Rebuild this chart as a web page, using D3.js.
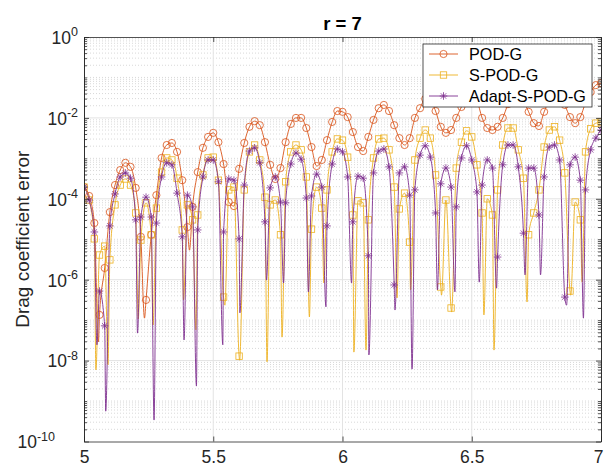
<!DOCTYPE html>
<html>
<head>
<meta charset="utf-8">
<script src="https://cdnjs.cloudflare.com/ajax/libs/d3/7.8.5/d3.min.js"></script>
<style>
  body { margin: 0; background: #fff; }
  text { font-family: "Liberation Sans", Arial, sans-serif; fill: #262626; }
</style>
</head>
<body>
<div id="chart"></div>
<script>
// sample times: one marker every 0.02 from 5 to 7
const tStart = 5;
const tStep = 0.02;

// log10 of drag coefficient error at each marker
const podg = [-3.71,-3.93,-4.60,-6.87,-5.71,-4.33,-3.66,-3.29,-3.11,-3.21,
  -3.73,-4.94,-6.50,-4.89,-3.91,-2.99,-2.67,-2.62,-2.84,-3.54,
  -4.70,-4.20,-3.34,-2.74,-2.47,-2.37,-2.60,-3.14,-4.08,-4.18,
  -3.26,-2.62,-2.22,-2.08,-2.18,-2.60,-3.16,-3.51,-3.24,-2.60,
  -2.15,-2.00,-2.00,-2.25,-2.72,-3.19,-3.04,-2.55,-2.10,-1.83,
  -1.85,-1.98,-2.35,-2.72,-2.82,-2.47,-2.05,-1.76,-1.68,-1.83,
  -2.18,-2.50,-2.67,-2.50,-2.00,-1.76,-1.53,-1.56,-1.83,-2.22,
  -2.37,-2.30,-2.00,-1.73,-1.48,-1.38,-1.56,-2.00,-2.25,-2.30,
  -2.22,-2.00,-1.66,-1.36,-1.31,-1.56,-1.85,-2.13,-2.20,-1.85,
  -1.56,-1.36,-1.43,-1.68,-1.98,-2.13,-1.98,-1.63,-1.36,-1.19,
  -1.14];

const spodg = [-3.71,-4.03,-4.99,-5.39,-5.17,-5.51,-4.15,-3.66,-3.51,-3.66,
  -4.35,-5.02,-4.10,-4.89,-4.23,-3.34,-2.99,-3.04,-3.49,-4.77,
  -4.15,-4.52,-4.40,-3.41,-2.99,-2.97,-3.54,-6.43,-3.78,-3.71,
  -7.89,-3.78,-2.84,-2.67,-3.04,-3.96,-4.15,-4.03,-4.89,-3.58,
  -2.84,-2.67,-2.79,-3.46,-4.75,-3.71,-4.23,-3.78,-2.84,-2.52,
  -2.55,-2.97,-4.40,-4.05,-4.10,-4.52,-2.99,-2.52,-2.50,-2.79,
  -3.71,-4.25,-3.86,-5.07,-3.04,-2.50,-2.30,-2.50,-3.41,-6.18,
  -4.03,-6.70,-3.24,-2.60,-2.32,-2.47,-3.16,-4.35,-4.00,-4.40,
  -3.78,-2.67,-2.25,-2.25,-2.79,-3.49,-4.89,-4.35,-3.78,-2.72,
  -2.30,-2.22,-2.55,-3.36,-6.28,-4.08,-4.52,-2.84,-2.27,-2.13,
  -2.10];

const adapt = [-3.71,-4.03,-4.82,-6.28,-7.14,-4.67,-3.88,-3.46,-3.36,-3.49,
  -4.52,-4.45,-3.96,-4.45,-4.60,-3.46,-3.11,-3.16,-3.86,-4.94,
  -3.91,-4.20,-4.77,-3.46,-3.04,-3.04,-3.58,-4.82,-3.51,-3.54,
  -4.99,-3.66,-2.82,-2.74,-3.11,-4.57,-3.73,-3.46,-4.08,-4.10,
  -3.14,-2.87,-3.02,-3.98,-3.93,-3.39,-3.71,-4.67,-3.14,-2.77,
  -2.84,-3.46,-4.57,-3.44,-3.49,-5.41,-3.36,-2.82,-2.77,-3.21,
  -6.13,-3.36,-3.21,-3.91,-3.78,-2.92,-2.69,-2.97,-4.35,-3.63,
  -3.24,-3.71,-4.20,-2.99,-2.69,-3.04,-3.83,-3.66,-3.04,-3.24,
  -5.44,-3.16,-2.67,-2.67,-3.21,-4.85,-3.24,-3.24,-4.40,-3.46,
  -2.72,-2.67,-3.04,-6.43,-3.16,-2.97,-3.54,-3.78,-2.79,-2.50,
  -2.30];

// minima of the curves between markers: [time, log10 error]
const podgDips = [[5.056,-7.54],[5.234,-6.95],[5.408,-5.27]];
const spodgDips = [[5.046,-8.23],[5.093,-8.10],[5.210,-6.97],[5.267,-7.12],[5.385,-6.50],
  [5.433,-7.24],[5.545,-6.63],[5.602,-7.99],[5.708,-8.03],[5.766,-7.42],[5.872,-6.92],
  [5.928,-6.08],[6.044,-7.79],[6.091,-7.74],[6.211,-6.45],[6.263,-6.25],[6.383,-6.38],
  [6.422,-6.80],[6.547,-6.87],[6.586,-7.74],[6.714,-6.55],[6.883,-6.38],[6.927,-6.06]];
const adaptDips = [[5.050,-7.61],[5.084,-9.25],[5.207,-7.32],[5.271,-9.47],[5.387,-7.49],
  [5.435,-8.63],[5.537,-7.61],[5.603,-6.82],[5.706,-6.01],[5.772,-6.08],[5.868,-6.30],
  [5.936,-6.67],[6.035,-6.08],[6.102,-7.86],[6.203,-6.75],[6.269,-8.21],[6.367,-6.25],
  [6.435,-6.30],[6.529,-6.06],[6.596,-6.21],[6.706,-5.88],[6.766,-5.88],[6.867,-6.63],
  [6.932,-6.95]];

const seriesNames = ['POD-G', 'S-POD-G', 'Adapt-S-POD-G'];
const xTicks = [5, 5.5, 6, 6.5, 7];
const yTickExps = [0, -2, -4, -6, -8, -10];

const colors = ['#D95319', '#EDB120', '#7E2F8E'];
const markerKinds = ['circle', 'square', 'star'];

const width = 604, height = 470;
const plotL = 84, plotR = 601, plotT = 37, plotB = 441.5;

const svg = d3.select('#chart').append('svg')
  .attr('width', width)
  .attr('height', height);

const x = d3.scaleLinear().domain([5, 7]).range([plotL, plotR]);
const y = d3.scaleLog().domain([1e-10, 1]).range([plotB, plotT]);

// grid
const minorVals = [];
for (let k = -10; k < 0; k++) {
  for (let m = 1; m <= 9; m++) {
    if (m === 1 && k % 2 === 0) continue;
    minorVals.push(m * Math.pow(10, k));
  }
}
const majorVals = yTickExps.map(e => Math.pow(10, e));

const grid = svg.append('g');
grid.selectAll('.minor')
  .data(minorVals)
  .enter().append('line')
  .attr('x1', plotL).attr('x2', plotR)
  .attr('y1', d => y(d)).attr('y2', d => y(d))
  .attr('stroke', '#c8c8c8')
  .attr('stroke-width', 0.7)
  .attr('stroke-dasharray', '1 2');
grid.selectAll('.major')
  .data(majorVals.slice(1, -1))
  .enter().append('line')
  .attr('x1', plotL).attr('x2', plotR)
  .attr('y1', d => y(d)).attr('y2', d => y(d))
  .attr('stroke', '#e3e3e3')
  .attr('stroke-width', 1);
grid.selectAll('.vmajor')
  .data(xTicks.slice(1, -1))
  .enter().append('line')
  .attr('x1', d => x(d)).attr('x2', d => x(d))
  .attr('y1', plotT).attr('y2', plotB)
  .attr('stroke', '#e3e3e3')
  .attr('stroke-width', 1);

// build data
function build(vals, dips) {
  const marks = vals.map((e, i) => ({ t: tStart + i * tStep, v: Math.pow(10, e) }));
  const extra = dips.map(d => ({ t: d[0], v: Math.pow(10, d[1]) }));
  const line = marks.concat(extra).sort((a, b) => a.t - b.t);
  return { marks, line };
}
const series = [build(podg, podgDips), build(spodg, spodgDips), build(adapt, adaptDips)];

svg.append('clipPath').attr('id', 'clip')
  .append('rect').attr('x', plotL).attr('y', plotT)
  .attr('width', plotR - plotL).attr('height', plotB - plotT);

const lineGen = d3.line()
  .x(d => x(d.t))
  .y(d => y(d.v))
  .curve(d3.curveMonotoneX);

function drawMarker(g, kind, color) {
  if (kind === 'circle') {
    g.append('circle').attr('r', 3.6)
      .attr('fill', 'none').attr('stroke', color).attr('stroke-width', 0.8);
  } else if (kind === 'square') {
    g.append('rect').attr('x', -3.2).attr('y', -3.2).attr('width', 6.4).attr('height', 6.4)
      .attr('fill', 'none').attr('stroke', color).attr('stroke-width', 0.8);
  } else {
    const s = 3.8, d = 2.7;
    g.append('path')
      .attr('d', `M0,${-s}V${s}M${-s},0H${s}M${-d},${-d}L${d},${d}M${-d},${d}L${d},${-d}`)
      .attr('stroke', color).attr('stroke-width', 0.8).attr('fill', 'none');
  }
}

const plot = svg.append('g').attr('clip-path', 'url(#clip)');
series.forEach((s, k) => {
  const g = plot.append('g');
  g.append('path')
    .datum(s.line)
    .attr('d', lineGen)
    .attr('fill', 'none')
    .attr('stroke', colors[k])
    .attr('stroke-width', 0.9);
  g.selectAll('.m')
    .data(s.marks)
    .enter().append('g')
    .attr('transform', d => `translate(${x(d.t)},${y(d.v)})`)
    .each(function () { drawMarker(d3.select(this), markerKinds[k], colors[k]); });
});

// axes
const axisColor = '#262626';
function styleAxis(g) {
  g.selectAll('path').attr('stroke', axisColor).attr('stroke-width', 0.8);
  g.selectAll('line').attr('stroke', axisColor).attr('stroke-width', 0.8);
}

const yAxis = svg.append('g')
  .attr('transform', `translate(${plotL},0)`)
  .call(d3.axisLeft(y).tickValues(majorVals).tickSizeInner(-5).tickSizeOuter(0).tickFormat(''))
  .call(styleAxis);
yAxis.selectAll('.tick').append('text')
  .attr('x', d => d < 1e-9 ? -29 : -6)
  .attr('dy', '0.36em')
  .attr('text-anchor', 'end')
  .style('font-size', '17.5px')
  .each(function (d) {
    const t = d3.select(this);
    const e = Math.round(Math.log10(d));
    t.append('tspan').text('10');
    t.append('tspan').attr('dy', -7.5).style('font-size', '12.5px').text(String(e));
  });
svg.append('g')
  .attr('transform', `translate(${plotL},0)`)
  .call(d3.axisLeft(y).tickValues(minorVals).tickSizeInner(-3).tickSizeOuter(0).tickFormat(''))
  .call(styleAxis);
svg.append('g')
  .attr('transform', `translate(${plotR},0)`)
  .call(d3.axisRight(y).tickValues(majorVals).tickSizeInner(-5).tickSizeOuter(0).tickFormat(''))
  .call(styleAxis);
svg.append('g')
  .attr('transform', `translate(${plotR},0)`)
  .call(d3.axisRight(y).tickValues(minorVals).tickSizeInner(-3).tickSizeOuter(0).tickFormat(''))
  .call(styleAxis);

const xAxis = svg.append('g')
  .attr('transform', `translate(0,${plotB})`)
  .call(d3.axisBottom(x).tickValues(xTicks).tickSizeInner(-5).tickSizeOuter(0).tickPadding(9).tickFormat(d => d))
  .call(styleAxis);
xAxis.selectAll('text')
  .style('font-size', '17.5px')
  .attr('fill', axisColor)
  .attr('dx', d => d === 7 ? -3 : 0);
svg.append('g')
  .attr('transform', `translate(0,${plotT})`)
  .call(d3.axisTop(x).tickValues(xTicks).tickSizeInner(-5).tickSizeOuter(0).tickFormat(''))
  .call(styleAxis);

// title and label
svg.append('text')
  .attr('x', (plotL + plotR) / 2).attr('y', 30)
  .attr('text-anchor', 'middle')
  .style('font-size', '18.5px').style('font-weight', 'bold')
  .style('fill', '#000')
  .text('r = 7');
svg.append('text')
  .attr('transform', `translate(29,${(plotT + plotB) / 2}) rotate(-90)`)
  .attr('text-anchor', 'middle')
  .style('font-size', '19px')
  .text('Drag coefficient error');

// legend
const legend = svg.append('g').attr('transform', 'translate(423,44)');
legend.append('rect')
  .attr('width', 169).attr('height', 63)
  .attr('fill', '#fff').attr('stroke', axisColor).attr('stroke-width', 0.8);
seriesNames.forEach((name, k) => {
  const row = legend.append('g').attr('transform', `translate(0,${10 + k * 21})`);
  row.append('line').attr('x1', 6).attr('x2', 35).attr('stroke', colors[k]).attr('stroke-width', 0.9);
  const mg = row.append('g').attr('transform', 'translate(20.5,0)');
  drawMarker(mg, markerKinds[k], colors[k]);
  row.append('text').attr('x', 46).attr('dy', '0.36em')
    .style('font-size', '16.2px').style('fill', '#000').text(name);
});
</script>
</body>
</html>
